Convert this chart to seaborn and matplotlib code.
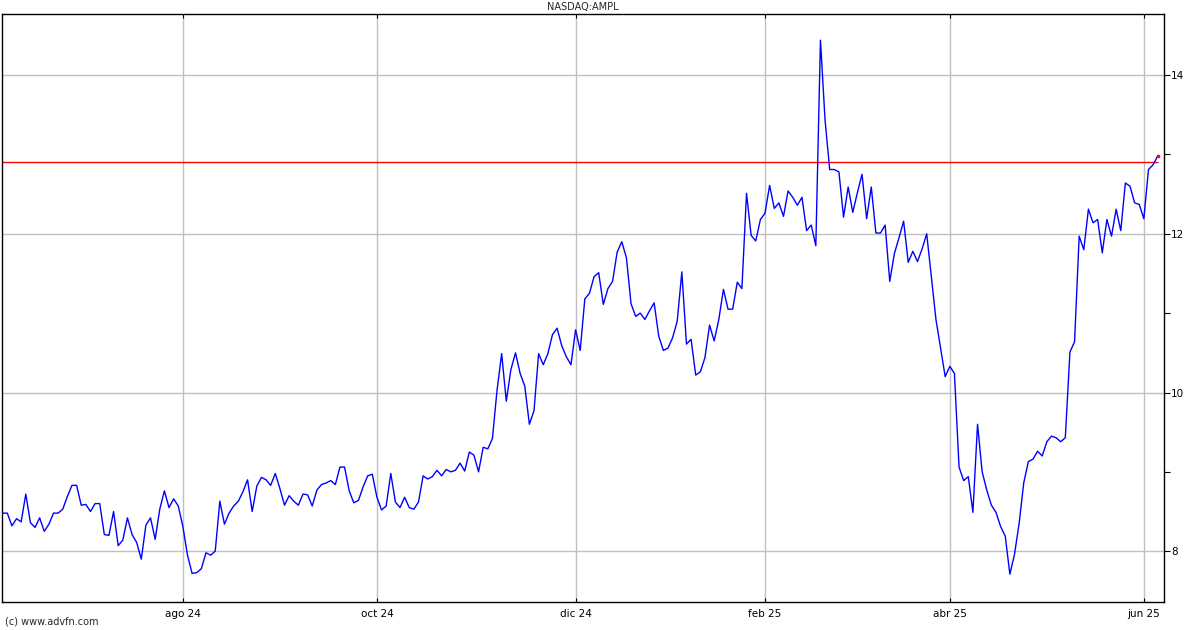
import numpy as np
import pandas as pd
import matplotlib
matplotlib.use("Agg")
import matplotlib.pyplot as plt
import seaborn as sns

title = "NASDAQ:AMPL"
credit = "(c) www.advfn.com"
start_date = "2024-06-05"
holidays = ["2024-06-19", "2024-07-04", "2024-09-02", "2024-11-28", "2024-12-25",
            "2025-01-01", "2025-01-09", "2025-01-20", "2025-02-17", "2025-04-18",
            "2025-05-26"]

prices = [
    8.48, 8.48, 8.32, 8.41, 8.37, 8.72, 8.36, 8.30, 8.42, 8.25,
    8.34, 8.48, 8.48, 8.53, 8.69, 8.83, 8.83, 8.58, 8.59, 8.50,
    8.60, 8.60, 8.21, 8.20, 8.50, 8.07, 8.14, 8.42, 8.21, 8.11,
    7.90, 8.33, 8.42, 8.15, 8.53, 8.76, 8.55, 8.66, 8.57, 8.31,
    7.95, 7.72, 7.73,
    7.78, 7.98, 7.95, 8.00, 8.63, 8.34, 8.48, 8.57, 8.63, 8.75, 8.90,
    8.50, 8.82, 8.93, 8.90, 8.83, 8.98, 8.79, 8.58, 8.70, 8.63,
    8.58, 8.72, 8.71, 8.57, 8.77, 8.84, 8.86, 8.89, 8.84, 9.06,
    9.06, 8.76, 8.61, 8.64, 8.81, 8.95, 8.97, 8.68, 8.52, 8.57,
    8.98, 8.62, 8.55, 8.68, 8.55, 8.53, 8.62, 8.95, 8.91, 8.94,
    9.02, 8.95, 9.03, 9.00, 9.02, 9.11, 9.01, 9.25, 9.21, 9.00,
    9.31, 9.29, 9.42, 10.03, 10.49, 9.89, 10.29, 10.50, 10.24, 10.08,
    9.60, 9.77, 10.49, 10.35, 10.49, 10.73, 10.81, 10.59, 10.45, 10.35,
    10.79, 10.53, 11.18, 11.25, 11.46, 11.51, 11.11, 11.31, 11.40, 11.77,
    11.90, 11.70, 11.12, 10.96, 11.00, 10.92, 11.03, 11.13, 10.71, 10.53,
    10.56, 10.69, 10.90, 11.52, 10.61, 10.67, 10.22, 10.26, 10.44, 10.85,
    10.65, 10.92, 11.30, 11.05, 11.05, 11.39, 11.31, 12.51, 11.98, 11.91,
    12.18, 12.26, 12.61, 12.32, 12.39, 12.22, 12.54, 12.46, 12.36, 12.46,
    12.04, 12.11, 11.85, 14.44, 13.43, 12.81, 12.81, 12.78, 12.21, 12.59,
    12.27, 12.52, 12.75, 12.19, 12.59, 12.01, 12.01, 12.11, 11.40, 11.75,
    11.95, 12.16, 11.64, 11.78, 11.65, 11.81, 12.00, 11.46, 10.92, 10.56,
    10.20, 10.33, 10.24, 9.06, 8.89, 8.94, 8.49, 9.60, 9.00, 8.77,
    8.58, 8.49, 8.31, 8.19, 7.71, 7.96, 8.35, 8.86, 9.13, 9.16,
    9.26, 9.20, 9.38, 9.45, 9.43, 9.38, 9.43, 10.51, 10.64, 11.97,
    11.80, 12.31, 12.14, 12.18, 11.76, 12.18, 11.97, 12.31, 12.04, 12.64,
    12.60, 12.39, 12.37, 12.19, 12.81, 12.87, 12.98,
]
ref_price = 12.91

tick_months = ["2024-08", "2024-10", "2024-12", "2025-02", "2025-04", "2025-06"]
tick_labels = ["ago 24", "oct 24", "dic 24", "feb 25", "abr 25", "jun 25"]
y_major = [8, 10, 12, 14]
y_minor = [9, 11, 13]

dates = pd.bdate_range(start=start_date, periods=len(prices), freq="C", holidays=holidays)
df = pd.DataFrame({"date": dates, "idx": np.arange(len(prices)), "price": prices})
months = df["date"].dt.strftime("%Y-%m")
tick_pos = [int(df.loc[months == m, "idx"].iloc[0]) for m in tick_months]

sns.set_style("white")
plt.rcParams["font.family"] = ["DejaVu Sans"]

W, H = 1200, 630
fig = plt.figure(figsize=(W / 100, H / 100), dpi=100)
left, right, top, bottom = 2, 1164, 14, 602
ax = fig.add_axes([left / W, 1 - bottom / H, (right - left) / W, (bottom - top) / H])

sns.lineplot(data=df, x="idx", y="price", ax=ax, color="#0000ff", linewidth=1.0, zorder=3)

x0, x1 = -0.15, len(prices) - 1 + 1.36
ax.set_xlim(x0, x1)
ax.set_ylim(7.36, 14.77)

ax.hlines(ref_price, x0, df["idx"].iloc[-1], color="#ff0000", linewidth=1.0, zorder=2)
ax.scatter([df["idx"].iloc[-1]], [df["price"].iloc[-1]], color="#ff0000", s=7, zorder=4, linewidths=0)

ax.set_xticks(tick_pos)
ax.set_xticklabels(tick_labels)
ax.set_yticks(y_major)
ax.set_yticks(y_minor, minor=True)
ax.set_yticklabels([str(v) for v in y_major])
ax.yaxis.tick_right()
ax.tick_params(axis="y", which="both", direction="out", length=4, width=0.8,
               labelsize=7.5, pad=1, colors="black", right=True, left=False)
ax.tick_params(axis="x", which="both", direction="in", length=3, width=0.8,
               labelsize=7.5, pad=5, colors="black", top=True, bottom=True)

ax.grid(True, which="major", color="#c0c0c0", linewidth=1.0, linestyle="-", zorder=1)
ax.set_xlabel("")
ax.set_ylabel("")
for s in ax.spines.values():
    s.set_visible(True)
    s.set_color("black")
    s.set_linewidth(1.0)

fig.text(((left + right) / 2) / W, 1 - 7 / H, title, ha="center", va="center", fontsize=7)
fig.text(5 / W, 1 - 622 / H, credit, ha="left", va="center", fontsize=7)

fig.savefig("out.png", dpi=100)
